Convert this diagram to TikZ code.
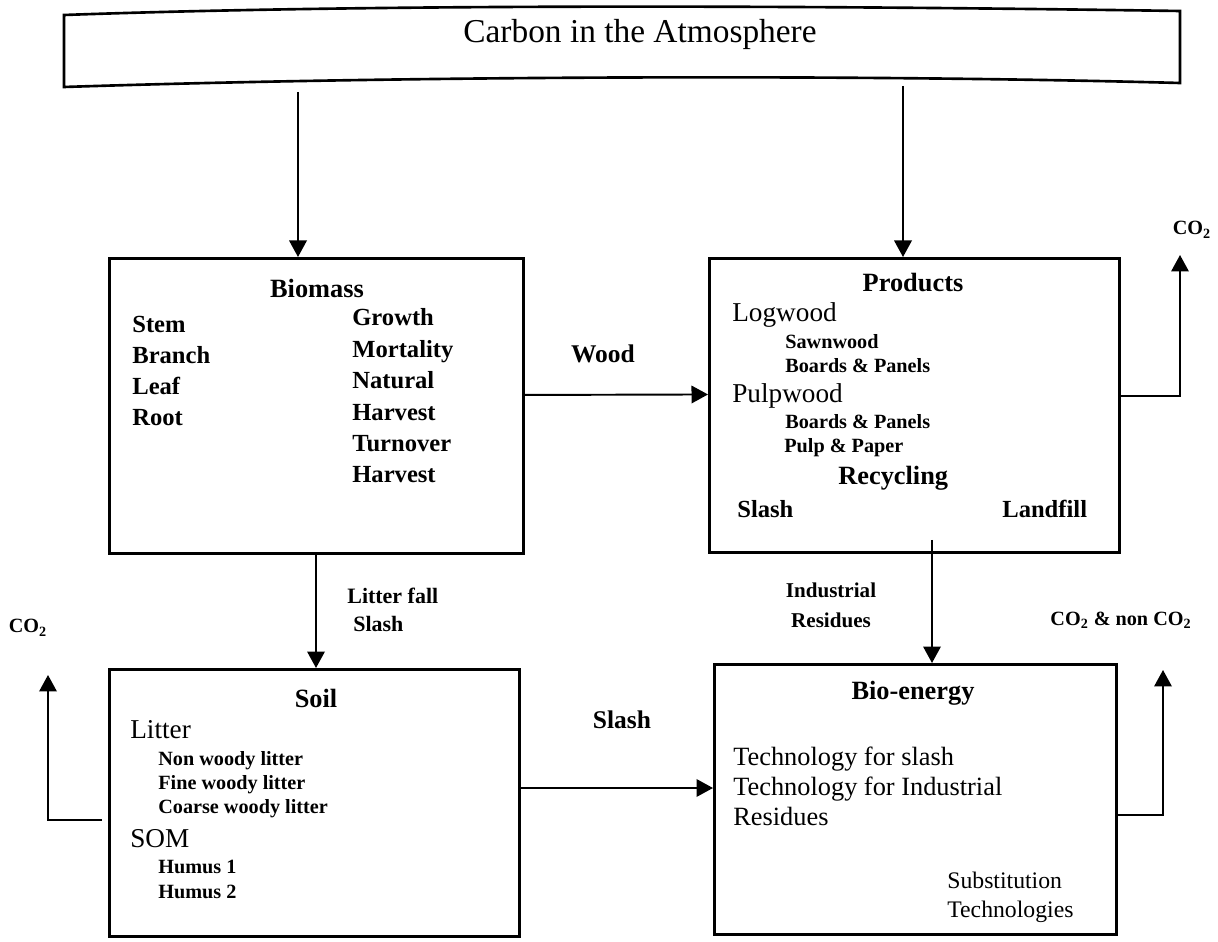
\documentclass[tikz,border=0pt]{standalone}
\usepackage{fontspec}
\setmainfont{Liberation Serif}
\usetikzlibrary{arrows.meta}
\tikzset{>={Triangle[length=3.3mm,width=3.5mm]}}
\tikzset{
  box/.style={draw, line width=1.7pt, rectangle, anchor=north west, inner sep=0pt},
  flow/.style={->, line width=1.1pt},
  head/.style={font=\bfseries\fontsize{15}{18}\selectfont, anchor=base, inner sep=0pt},
  item/.style={font=\bfseries\fontsize{14}{17}\selectfont, anchor=base west, inner sep=0pt},
  big/.style={font=\fontsize{15.5}{18}\selectfont, anchor=base west, inner sep=0pt},
  sub/.style={font=\bfseries\fontsize{11.5}{14}\selectfont, anchor=base west, inner sep=0pt},
  lbl/.style={font=\bfseries\fontsize{12.5}{15}\selectfont, anchor=base west, inner sep=0pt},
  gas/.style={font=\bfseries\fontsize{11.5}{14}\selectfont, anchor=base, inner sep=0pt},
}

\begin{document}
\begin{tikzpicture}[x=0.02cm, y=-0.02cm]
\useasboundingbox (0,0) rectangle (1218,942);

% atmosphere
\draw[line width=1.5pt] (64,15) .. controls (400,3) and (850,6) .. (1180,11) -- (1180,83)
  .. controls (850,74) and (400,76) .. (64,87) -- cycle;
\node[font=\fontsize{19}{22}\selectfont, anchor=base] (atm) at (640,43) {Carbon in the Atmosphere};

% the four pools
\node[box, minimum width=8.28cm, minimum height=5.9cm] (biomass) at (108,257) {};
\node[box, minimum width=8.2cm, minimum height=5.88cm] (products) at (708,257) {};
\node[box, minimum width=8.2cm, minimum height=5.34cm] (soil) at (108,668) {};
\node[box, minimum width=8.04cm, minimum height=5.4cm] (bio) at (713,663) {};

% biomass
\node[head] (bmhead) at (317,298) {Biomass};
\foreach \t [count=\i from 0] in {Stem,Branch,Leaf,Root}
  \node[item] (bmL\i) at (132,{333+31*\i}) {\t};
\foreach \t [count=\i from 0] in {Growth,Mortality,Natural,Harvest,Turnover,Harvest}
  \node[item] (bmR\i) at (352,{326+31.4*\i}) {\t};

% products
\node[head] (prhead) at (913,292) {Products};
\node[big] (logw) at (732,322) {Logwood};
\node[sub] (sawn) at (785,349) {Sawnwood};
\node[sub] (board1) at (785,373) {Boards \& Panels};
\node[big] (pulpw) at (732,403) {Pulpwood};
\node[sub] (board2) at (785,429) {Boards \& Panels};
\node[sub] (pulp) at (784,453) {Pulp \& Paper};
\node[item, font=\bfseries\fontsize{15}{18}\selectfont] (recyc) at (838,485) {Recycling};
\node[item] (prslash) at (737,518) {Slash};
\node[item] (landf) at (1002,518) {Landfill};

% soil
\node[head] (slhead) at (316,707) {Soil};
\node[big] (litter) at (130,738) {Litter};
\foreach \t [count=\i from 0] in {Non woody litter,Fine woody litter,Coarse woody litter}
  \node[sub] (lit\i) at (158,{765+24*\i}) {\t};
\node[big] (som) at (130,847) {SOM};
\node[sub] (hum1) at (158,873) {Humus 1};
\node[sub] (hum2) at (158,898) {Humus 2};

% bio-energy
\node[head] (bihead) at (913,700) {Bio-energy};
\foreach \t [count=\i from 0] in {Technology for slash,Technology for Industrial,Residues}
  \node[big, font=\fontsize{15}{18}\selectfont] (tech\i) at (733,{765+30*\i}) {\t};
\node[big, font=\fontsize{13.5}{16}\selectfont] (subst) at (947,888) {Substitution};
\node[big, font=\fontsize{13.5}{16}\selectfont] (techn) at (947,917) {Technologies};

% flow labels
\node[lbl, font=\bfseries\fontsize{14.5}{17}\selectfont, anchor=base] (woodlbl) at (603,363) {Wood};
\node[lbl, font=\bfseries\fontsize{14.5}{17}\selectfont, anchor=base] (slashlbl) at (622,728) {Slash};
\node[lbl] (litfall) at (347,603) {Litter fall};
\node[lbl] (litslash) at (353,632) {Slash};
\node[lbl, font=\bfseries\fontsize{12}{15}\selectfont, anchor=base] (indus) at (831,598) {Industrial};
\node[lbl, font=\bfseries\fontsize{12}{15}\selectfont, anchor=base] (resid) at (831,627) {Residues};
\node[gas] (co2p) at (1192,235) {CO\textsubscript{2}};
\node[gas] (co2s) at (28,633) {CO\textsubscript{2}};
\node[gas] (co2b) at (1121,625) {CO\textsubscript{2} \& non CO\textsubscript{2}};

% connectors
\coordinate (atmL) at (298,92);
\coordinate (atmR) at (903,86);
\coordinate (litIn) at (316,0);
\coordinate (indOut) at (932,540);
\coordinate (slashY) at (0,788);
\coordinate (co2pTip) at (1180,255);
\coordinate (co2bTip) at (1163,670);
\coordinate (bioOut) at (0,815);
\coordinate (soilOut) at (102,820);
\coordinate (co2sTip) at (48,675);

\draw[flow] (atmL) -- (atmL |- biomass.north);
\draw[flow] (atmR) -- (atmR |- products.north);
\draw[flow] ([yshift=2.2mm]biomass.east) -- ([yshift=2.2mm]products.west);
\draw[flow] ([yshift=1.9mm]products.east) -| (co2pTip);
\draw[flow] (biomass.south -| litIn) -- (soil.north -| litIn);
\draw[flow] (indOut) -- (indOut |- bio.north);
\draw[flow] (soil.east |- slashY) -- (bio.west |- slashY);
\draw[flow] (bio.east |- bioOut) -| (co2bTip);
\draw[flow] (soilOut) -| (co2sTip);
\end{tikzpicture}
\end{document}
